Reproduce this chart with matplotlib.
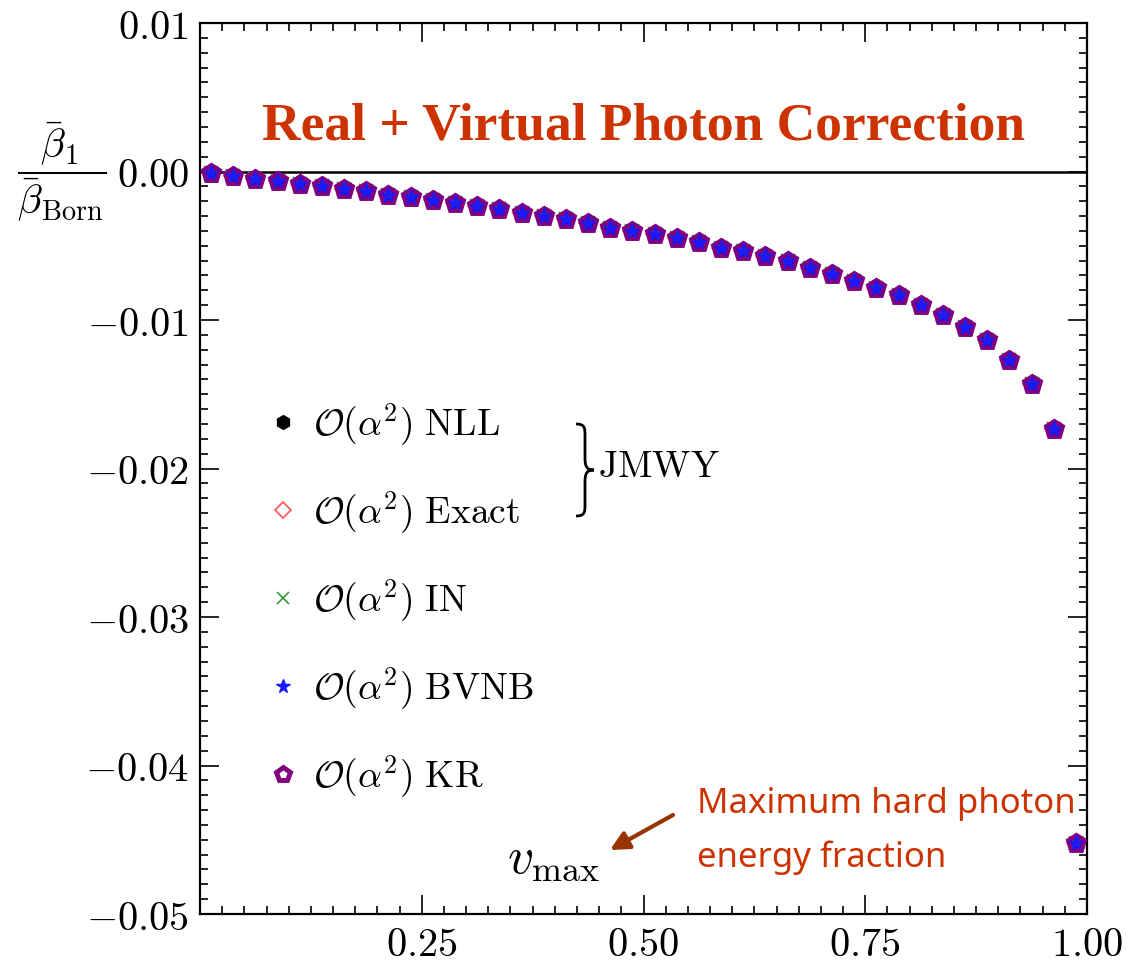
import numpy as np
import matplotlib
matplotlib.use('Agg')
from matplotlib import pyplot as plt
from matplotlib.ticker import MultipleLocator, FixedLocator, FixedFormatter
from matplotlib.path import Path
from matplotlib.patches import PathPatch

plt.rcParams['mathtext.fontset'] = 'cm'
plt.rcParams['font.family'] = ['DejaVu Sans']

# maximum hard photon energy fraction (bin centres)
v_max = [0.0125, 0.0375, 0.0625, 0.0875, 0.1125, 0.1375, 0.1625, 0.1875,
         0.2125, 0.2375, 0.2625, 0.2875, 0.3125, 0.3375, 0.3625, 0.3875,
         0.4125, 0.4375, 0.4625, 0.4875, 0.5125, 0.5375, 0.5625, 0.5875,
         0.6125, 0.6375, 0.6625, 0.6875, 0.7125, 0.7375, 0.7625, 0.7875,
         0.8125, 0.8375, 0.8625, 0.8875, 0.9125, 0.9375, 0.9625, 0.9875]

# beta1 / beta_Born (all five calculations overlap)
beta_nll = [-0.00013, -0.00030, -0.00048, -0.00064, -0.00084, -0.00096, -0.00118, -0.00132,
            -0.00155, -0.00175, -0.00195, -0.00213, -0.00232, -0.00250, -0.00278, -0.00302,
            -0.00322, -0.00350, -0.00379, -0.00402, -0.00424, -0.00451, -0.00476, -0.00512,
            -0.00537, -0.00570, -0.00604, -0.00650, -0.00687, -0.00739, -0.00787, -0.00830,
            -0.00896, -0.00963, -0.01046, -0.01138, -0.01266, -0.01434, -0.01737, -0.04520]
beta_exact = list(beta_nll)
beta_in = list(beta_nll)
beta_bvnb = list(beta_nll)
beta_kr = list(beta_nll)

labels = [r'$\mathcal{O}(\alpha^2)\ \mathrm{NLL}$',
          r'$\mathcal{O}(\alpha^2)\ \mathrm{Exact}$',
          r'$\mathcal{O}(\alpha^2)\ \mathrm{IN}$',
          r'$\mathcal{O}(\alpha^2)\ \mathrm{BVNB}$',
          r'$\mathcal{O}(\alpha^2)\ \mathrm{KR}$']

x_ticks = [0.25, 0.50, 0.75, 1.00]
y_ticks = [0.01, 0.00, -0.01, -0.02, -0.03, -0.04, -0.05]

W, H = 1135, 963
fig = plt.figure(figsize=(W / 100, H / 100), dpi=100)
ax = fig.add_axes([200 / W, 1 - 914 / H, 887 / W, 891 / H])

ax.axhline(0, color='black', lw=1.8, zorder=1)

h_nll, = ax.plot(v_max, beta_nll, ls='none', marker='h', ms=11, color='black', zorder=2)
h_exact, = ax.plot(v_max, beta_exact, ls='none', marker='D', ms=9, mfc='none', mec='#ff5555', mew=1.2, zorder=3)
h_in, = ax.plot(v_max, beta_in, ls='none', marker='x', ms=10, color='#3a9a3a', mew=1.2, zorder=4)
h_kr, = ax.plot(v_max, beta_kr, ls='none', marker='p', ms=12, mfc='none', mec='#800080', mew=3.5, zorder=5)
h_bvnb, = ax.plot(v_max, beta_bvnb, ls='none', marker='*', ms=11, color='#1a1aff', zorder=6)

ax.set_xlim(0, 1)
ax.set_ylim(-0.05, 0.01)
ax.xaxis.set_major_locator(FixedLocator(x_ticks))
ax.xaxis.set_major_formatter(FixedFormatter(['$%.2f$' % t for t in x_ticks]))
ax.xaxis.set_minor_locator(MultipleLocator(0.025))
ax.yaxis.set_major_locator(FixedLocator(y_ticks))
ax.yaxis.set_major_formatter(FixedFormatter(['$%.2f$' % t if t >= 0 else '$-%.2f$' % abs(t) for t in y_ticks]))
ax.yaxis.set_minor_locator(MultipleLocator(0.001))
ax.tick_params(which='both', direction='in', top=True, right=True, width=1.2, labelsize=29)
ax.tick_params(which='major', length=14, pad=8)
ax.tick_params(which='minor', length=6)
for s in ax.spines.values():
    s.set_linewidth(1.6)

leg = ax.legend([h_nll, h_exact, h_in, h_bvnb, h_kr], labels, loc='center left',
                bbox_to_anchor=(0.055, 0.352), frameon=False, fontsize=27,
                handlelength=0.8, handletextpad=0.4, labelspacing=1.1,
                borderpad=0, markerscale=0.9)

# brace grouping the two JMWY results
def px(x, y):
    return ((x - 200) / 887, (914 - y) / 891)

bx0, bx1, ytop, ybot = 576, 594, 424, 516
ymid = (ytop + ybot) / 2
verts = [px(bx0, ytop),
         px(bx0 + 9, ytop), px(bx0 + 9, ytop + 4), px(bx0 + 9, ytop + 12),
         px(bx0 + 9, ymid - 12),
         px(bx0 + 9, ymid - 3), px(bx0 + 11, ymid), px(bx1, ymid),
         px(bx0 + 11, ymid), px(bx0 + 9, ymid + 3), px(bx0 + 9, ymid + 12),
         px(bx0 + 9, ybot - 12),
         px(bx0 + 9, ybot - 4), px(bx0 + 9, ybot), px(bx0, ybot)]
codes = [Path.MOVETO, Path.CURVE4, Path.CURVE4, Path.CURVE4, Path.LINETO,
         Path.CURVE4, Path.CURVE4, Path.CURVE4, Path.CURVE4, Path.CURVE4, Path.CURVE4,
         Path.LINETO, Path.CURVE4, Path.CURVE4, Path.CURVE4]
ax.add_patch(PathPatch(Path(verts, codes), transform=ax.transAxes, fc='none', ec='black', lw=2))
ax.text(*px(598, 467), r'$\mathrm{JMWY}$', transform=ax.transAxes, fontsize=27, va='center', ha='left')

# y label as a fraction next to the 0.00 tick
fig.text(62 / W, 1 - 172 / H, r'$\dfrac{\bar{\beta}_1}{\bar{\beta}_{\mathrm{Born}}}$', fontsize=29,
         ha='center', va='center')

fig.text(644 / W, 1 - 140 / H, 'Real + Virtual Photon Correction', fontsize=38.5, fontweight='bold',
         family=['Liberation Serif'], color='#cc3300', ha='center', va='baseline')

fig.text(507 / W, 1 - 873 / H, r'$v_{\mathrm{max}}$', fontsize=37, ha='left', va='baseline')

fig.text(697 / W, 1 - 813 / H, 'Maximum hard photon', fontsize=25, family=['Noto Sans'],
         color='#cc3300', ha='left', va='baseline')
fig.text(697 / W, 1 - 867 / H, 'energy fraction', fontsize=25, family=['Noto Sans'],
         color='#cc3300', ha='left', va='baseline')
ax.annotate('', xy=(610 / W, 1 - 850 / H), xytext=(673 / W, 1 - 815 / H),
            xycoords='figure fraction', textcoords='figure fraction',
            arrowprops=dict(arrowstyle='-|>', color='#993300', lw=3, mutation_scale=28,
                            shrinkA=0, shrinkB=0))

fig.savefig('out.png', dpi=100)
